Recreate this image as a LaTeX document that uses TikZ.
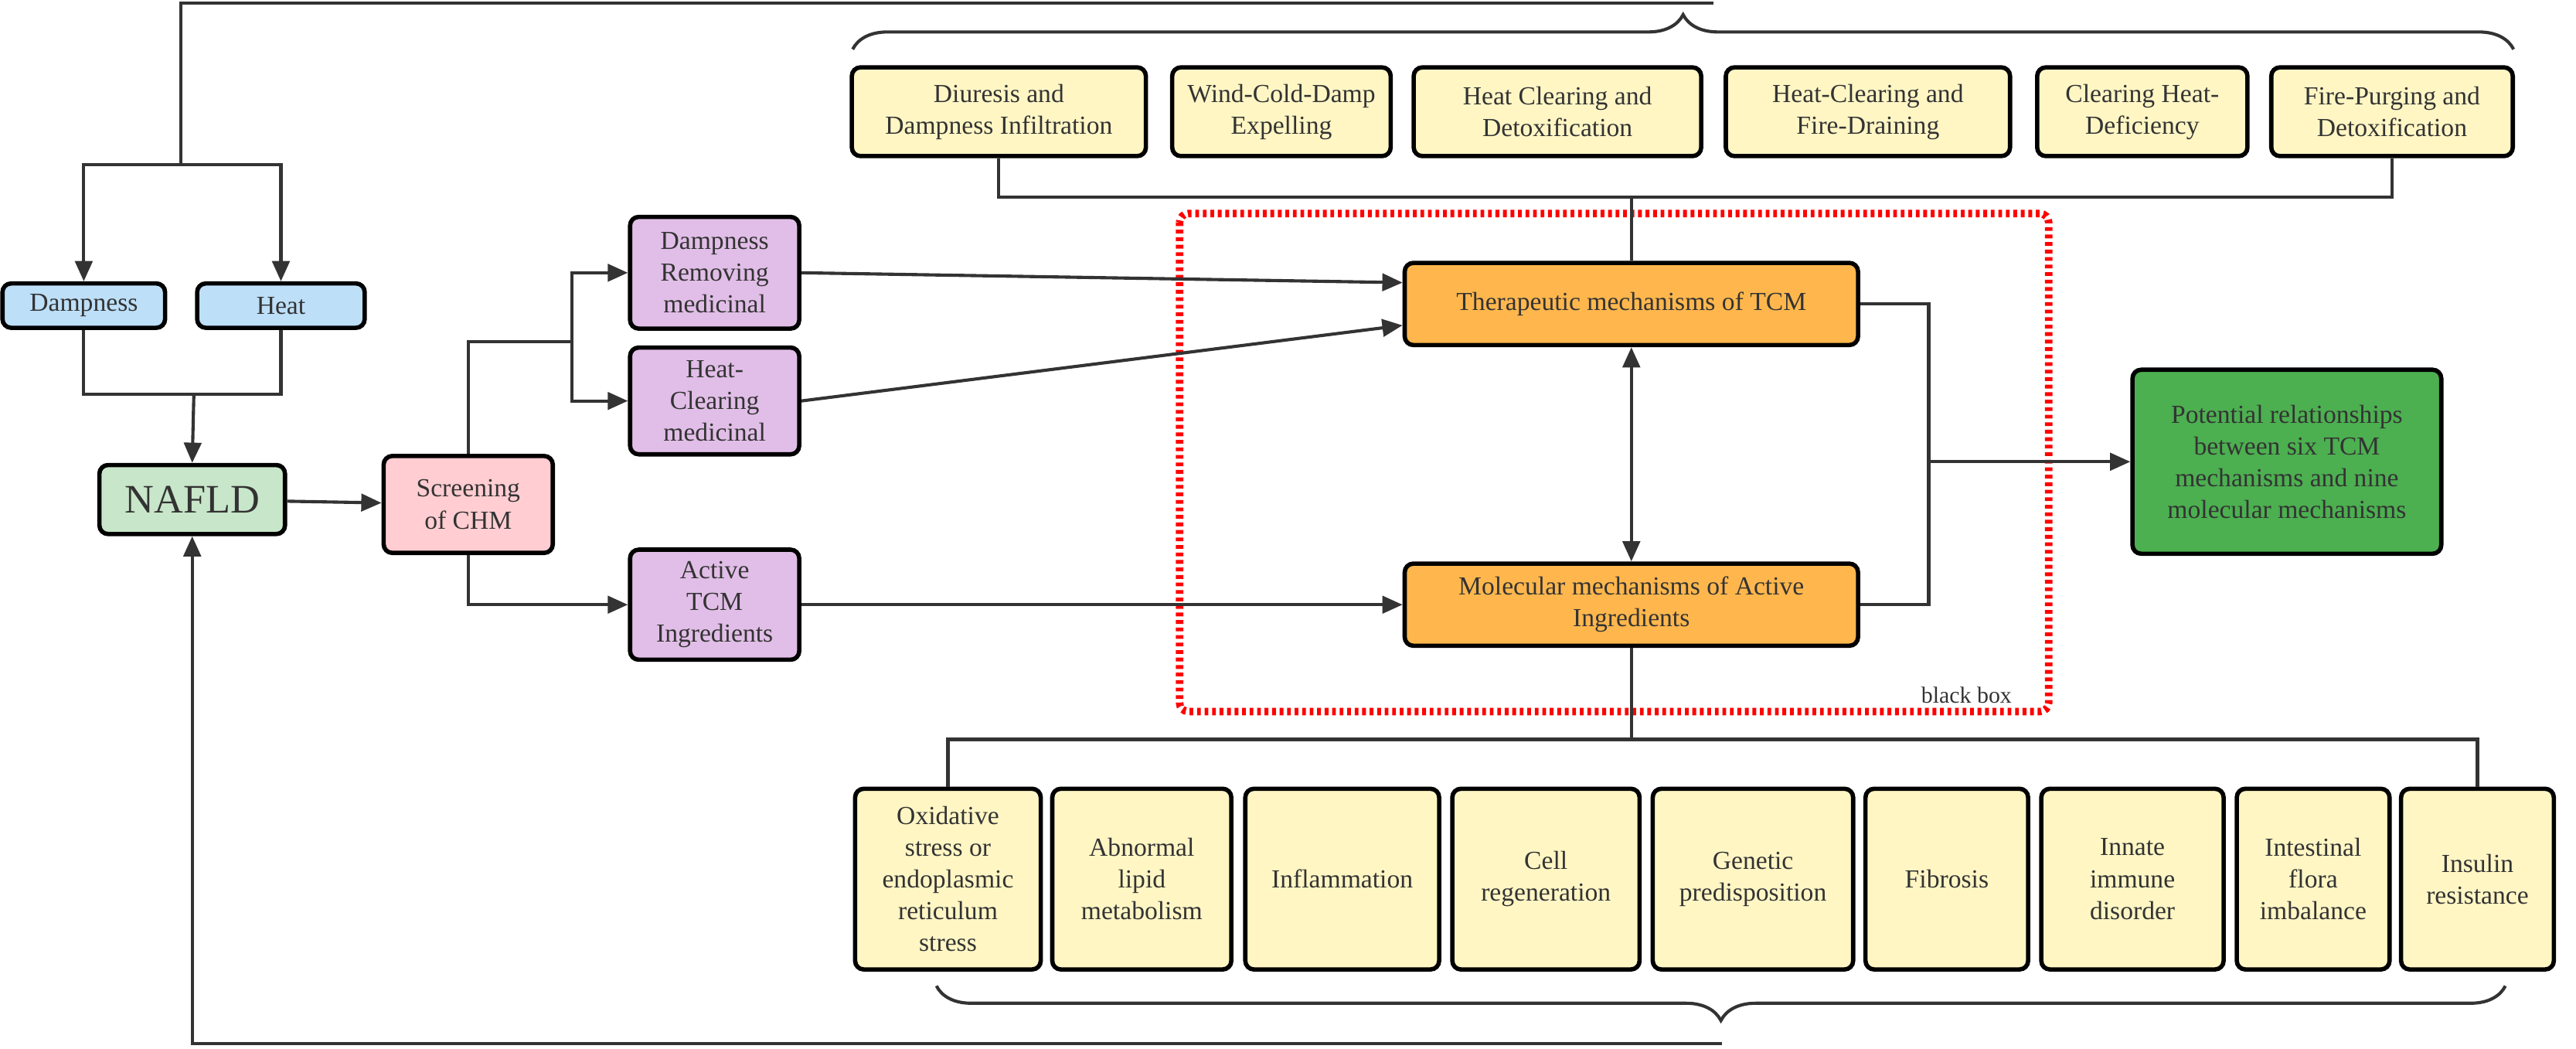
\documentclass[tikz,border=0pt]{standalone}
\usepackage{fontspec}
\setmainfont{Liberation Serif}
\usetikzlibrary{arrows.meta,decorations.pathreplacing}
\definecolor{line}{HTML}{333333}
\definecolor{myblue}{HTML}{BDDFF8}
\definecolor{mygreen}{HTML}{C8E6C9}
\definecolor{mypink}{HTML}{FFCDD2}
\definecolor{mypurple}{HTML}{E1BEE7}
\definecolor{myorange}{HTML}{FFB74D}
\definecolor{mydark}{HTML}{4CAF50}
\definecolor{myyellow}{HTML}{FFF6C4}
\tikzset{
  box/.style={draw=black, line width=1.5pt, rounded corners=3pt, align=center,
    inner sep=1pt, text=line, font=\fontsize{9}{11}\selectfont},
  conn/.style={draw=line, line width=1.1pt},
  arr/.style={conn, -{Triangle[length=7pt,width=6pt]}},
}
\begin{document}
\begin{tikzpicture}[x=0.02cm, y=-0.02cm]
\useasboundingbox (0,0) rectangle (1568,638);
% left part
\node[box, fill=myblue, minimum width=1.98cm, minimum height=0.54cm] (damp) at (51,186) {Dampness};
\node[box, fill=myblue, minimum width=2.04cm, minimum height=0.54cm] (heat) at (171,186) {Heat};
\node[box, fill=mygreen, minimum width=2.26cm, minimum height=0.84cm, font=\fontsize{14}{16}\selectfont] (nafld) at (117,304) {NAFLD};
\node[box, fill=mypink, minimum width=2.06cm, minimum height=1.18cm] (screen) at (285,307) {Screening\\of CHM};
\node[box, fill=mypurple, minimum width=2.06cm, minimum height=1.36cm] (dr) at (435,166) {Dampness\\Removing\\medicinal};
\node[box, fill=mypurple, minimum width=2.06cm, minimum height=1.30cm] (hc) at (435,244) {Heat-\\Clearing\\medicinal};
\node[box, fill=mypurple, minimum width=2.06cm, minimum height=1.34cm] (act) at (435,368) {Active\\TCM\\Ingredients};
% centre
\node[box, fill=myorange, minimum width=5.52cm, minimum height=1.0cm] (ther) at (993,185) {Therapeutic mechanisms of TCM};
\node[box, fill=myorange, minimum width=5.52cm, minimum height=1.0cm] (mol) at (993,368) {Molecular mechanisms of Active\\Ingredients};
\node[box, fill=mydark, minimum width=3.76cm, minimum height=2.24cm] (pot) at (1392,281) {Potential relationships\\between six TCM\\mechanisms and nine\\molecular mechanisms};
\draw[red, line width=2.6pt, dash pattern=on 1.3pt off 1.3pt, rounded corners=3pt] (718,130) rectangle (1247,433);
\node[font=\fontsize{8}{10}\selectfont, text=line] (bb) at (1197,423) {black box};
% top row
\foreach \n/\x/\w/\t in {t1/608/179/{Diuresis and\\Dampness Infiltration}, t2/780/133/{Wind-Cold-Damp\\Expelling}, t3/948/175/{Heat Clearing and\\Detoxification}, t4/1137/173/{Heat-Clearing and\\Fire-Draining}, t5/1304/128/{Clearing Heat-\\Deficiency}, t6/1456/147/{Fire-Purging and\\Detoxification}}
  \node[box, fill=myyellow, minimum width=\w*0.02cm, minimum height=1.08cm] (\n) at (\x,68) {\t};
% bottom row
\foreach \n/\x/\w/\t in {b1/577/113/{Oxidative\\stress or\\endoplasmic\\reticulum\\stress}, b2/695/109/{Abnormal\\lipid\\metabolism}, b3/817/118/{Inflammation}, b4/941/114/{Cell\\regeneration}, b5/1067/122/{Genetic\\predisposition}, b6/1185/99/{Fibrosis}, b7/1298/111/{Innate\\immune\\disorder}, b8/1408/93/{Intestinal\\flora\\imbalance}, b9/1508/93/{Insulin\\resistance}}
  \node[box, fill=myyellow, minimum width=\w*0.02cm, minimum height=2.2cm] (\n) at (\x,535) {\t};
% braces
\coordinate (toptip) at (1043,2);
\coordinate (bottip) at (1048,635);
\draw[conn, decorate, decoration={brace, amplitude=12pt}] (519,30) -- (1530,30);
\draw[conn, decorate, decoration={brace, mirror, amplitude=12pt}] (570,600) -- (1525,600);
% connectors
\draw[conn] (toptip) -| (110,100);
\draw[arr] (110,100) -| (damp.north);
\draw[arr] (110,100) -| (heat.north);
\draw[conn] (damp.south) |- (118,240) -| (heat.south);
\draw[arr] (118,240) -- (nafld.north);
\draw[arr] (bottip) -| (nafld.south);
\draw[arr] (nafld) -- (screen);
\draw[conn] (screen.north) |- (348,208);
\draw[arr] (348,208) |- (dr.west);
\draw[arr] (348,208) |- (hc.west);
\draw[arr] (screen.south) |- (act.west);
\draw[arr] (dr.east) -- (ther.west |- 0,172);
\draw[arr] (hc.east) -- (ther.west |- 0,198);
\draw[arr] (act.east) -- (mol.west);
\draw[conn, {Triangle[length=7pt,width=6pt]}-{Triangle[length=7pt,width=6pt]}] (ther) -- (mol);
\draw[conn] (ther.east) -| (1174,281) |- (mol.east);
\draw[arr] (1174,281) -- (pot.west);
\draw[conn] (t1.south) |- (1040,120) -| (t6.south);
\draw[conn] (993,120) -- (ther.north);
\draw[conn] (mol.south) -- (993,450);
\draw[conn] (b1.north) |- (1040,450) -| (b9.north);
\end{tikzpicture}
\end{document}
